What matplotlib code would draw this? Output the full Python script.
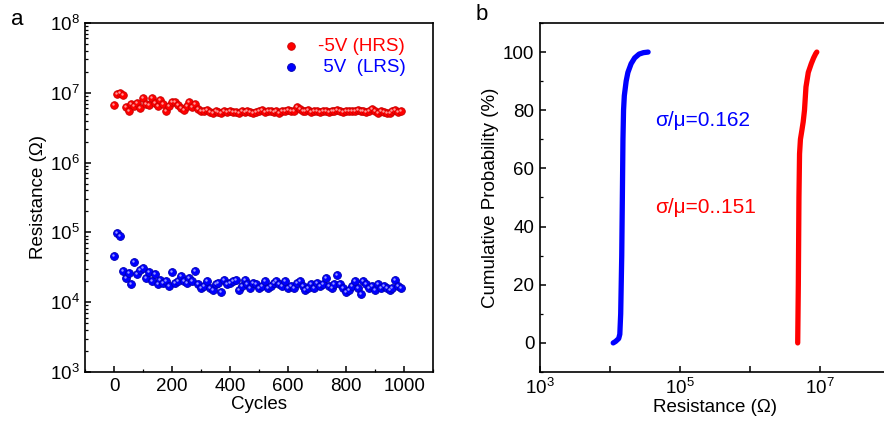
import numpy as np
import matplotlib
matplotlib.use('Agg')
import matplotlib.pyplot as plt
from matplotlib.transforms import offset_copy
from matplotlib.ticker import FixedLocator, FuncFormatter, MultipleLocator, LogLocator, NullFormatter

plt.rcParams['font.family'] = ['Liberation Sans', 'DejaVu Sans']
plt.rcParams['mathtext.default'] = 'regular'

## data
# panel a: endurance, read every 10 cycles
cycles = np.arange(0, 1000, 10)
hrs_mohm = [6.7, 9.6, 9.8, 9.3, 6.3, 5.4, 6.8, 6.4, 7.2, 6.0,
            8.5, 7.0, 6.6, 8.4, 7.2, 6.5, 7.8, 6.8, 5.4, 6.4,
            7.5, 7.3, 6.6, 6.0, 5.6, 6.4, 7.3, 6.2, 7.0, 5.9,
            5.5, 5.4, 5.6, 5.3, 5.2, 5.4, 5.3, 5.2, 5.5, 5.3,
            5.4, 5.3, 5.3, 5.2, 5.4, 5.3, 5.5, 5.3, 5.2, 5.3,
            5.4, 5.6, 5.3, 5.4, 5.5, 5.3, 5.4, 5.2, 5.5, 5.4,
            5.6, 5.4, 5.5, 6.2, 5.8, 5.5, 5.4, 5.6, 5.3, 5.5,
            5.4, 5.3, 5.5, 5.4, 5.3, 5.5, 5.4, 5.6, 5.4, 5.3,
            5.5, 5.4, 5.5, 5.4, 5.6, 5.4, 5.5, 5.3, 5.4, 5.9,
            5.5, 5.2, 5.4, 5.3, 5.1, 5.2, 5.5, 5.7, 5.3, 5.4]
lrs_10k = [4.6, 9.8, 9.0, 2.8, 2.2, 2.6, 1.8, 3.8, 2.5, 2.9,
           3.1, 2.2, 2.7, 2.0, 2.5, 1.8, 2.1, 1.9, 2.0, 1.7,
           2.7, 1.9, 2.0, 2.4, 2.0, 1.9, 2.2, 2.0, 2.8, 1.8,
           1.6, 1.7, 2.0, 1.6, 1.5, 1.8, 1.9, 1.4, 2.1, 1.8,
           1.9, 2.0, 2.1, 1.5, 1.7, 2.1, 1.8, 1.6, 1.9, 1.8,
           1.6, 1.7, 2.0, 1.6, 1.7, 1.9, 2.0, 1.8, 1.7, 2.0,
           1.6, 1.7, 1.6, 1.9, 2.0, 1.7, 1.5, 1.6, 1.8, 1.6,
           1.9, 1.7, 1.8, 2.2, 1.7, 1.6, 1.8, 2.45, 1.8, 1.6,
           1.4, 1.5, 1.7, 2.0, 1.6, 1.3, 2.0, 1.8, 1.6, 1.7,
           1.5, 1.8, 1.6, 1.7, 1.6, 1.5, 1.6, 2.1, 1.7, 1.6]
hrs = np.array(hrs_mohm) * 1e6
lrs = np.array(lrs_10k) * 1e4

# panel b: cumulative distributions
lrs_prob = [0, 0.5, 1.5, 3, 10, 30, 50, 70, 80, 85, 90, 93, 96, 98, 99.3, 99.8, 100]
lrs_res  = [1.11e4, 1.2e4, 1.33e4, 1.38e4, 1.42e4, 1.47e4, 1.50e4, 1.53e4, 1.56e4,
            1.6e4, 1.7e4, 1.8e4, 2.0e4, 2.25e4, 2.6e4, 3.0e4, 3.5e4]
hrs_prob = [0, 20, 50, 65, 70, 73, 76, 80, 88, 93, 96, 98, 99.5, 100]
hrs_res  = [4.8e6, 4.9e6, 5.0e6, 5.1e6, 5.25e6, 5.5e6, 5.75e6, 6.0e6, 6.3e6,
            6.8e6, 7.5e6, 8.1e6, 8.7e6, 9.0e6]

red, blue = '#ff0000', '#0000ff'
fs = 13.5

fig = plt.figure(figsize=(8.84, 4.25), dpi=100)
ax_a = fig.add_axes([0.0962, 0.1247, 0.3937, 0.8212])
ax_b = fig.add_axes([0.6109, 0.1247, 0.3959, 0.8212])

## panel a
ax_a.scatter(cycles, hrs, s=30, color=red, edgecolor='#c80000', lw=0.6,
             label='-5V (HRS)', zorder=3)
ax_a.scatter(cycles, lrs, s=32, color=blue, edgecolor='#0000b0', lw=0.6,
             label=' 5V  (LRS)', zorder=3)
# small highlight to mimic the shaded spheres
hl = offset_copy(ax_a.transData, fig=fig, x=-1.0, y=1.0, units='dots')
ax_a.scatter(cycles, hrs, s=3, color='#ff9a9a', lw=0, transform=hl, zorder=4)
ax_a.scatter(cycles, lrs, s=3, color='#9a9aff', lw=0, transform=hl, zorder=4)

ax_a.set_yscale('log')
ax_a.set_ylim(1e3, 1e8)
ax_a.set_xlim(-100, 1100)
ax_a.xaxis.set_major_locator(MultipleLocator(200))
ax_a.xaxis.set_minor_locator(MultipleLocator(100))
ax_a.yaxis.set_major_locator(LogLocator(base=10, numticks=10))
ax_a.yaxis.set_minor_locator(LogLocator(base=10, subs=np.arange(2, 10), numticks=20))
ax_a.yaxis.set_minor_formatter(NullFormatter())
ax_a.set_xlabel('Cycles', fontsize=fs, labelpad=1)
ax_a.set_ylabel('Resistance (Ω)', fontsize=fs, labelpad=2)
leg = ax_a.legend(loc='upper right', bbox_to_anchor=(0.965, 1.0), frameon=False,
                  fontsize=fs, labelcolor='linecolor', handletextpad=0.7,
                  borderaxespad=0.4, labelspacing=0.2, handlelength=1.5)

## panel b
ax_b.plot(lrs_res, lrs_prob, color=blue, lw=3.8, solid_capstyle='round', solid_joinstyle='round')
ax_b.plot(hrs_res, hrs_prob, color=red, lw=3.8, solid_capstyle='round', solid_joinstyle='round')
ax_b.set_xscale('log')
ax_b.set_xlim(1e3, 1e8)
ax_b.set_ylim(-10, 110)
ax_b.xaxis.set_major_locator(FixedLocator([1e3, 1e4, 1e5, 1e6, 1e7, 1e8]))
ax_b.xaxis.set_minor_locator(FixedLocator([]))
ax_b.xaxis.set_major_formatter(FuncFormatter(
    lambda v, p: '$10^{%d}$' % round(np.log10(v)) if round(np.log10(v)) % 2 == 1 else ''))
ax_b.yaxis.set_major_locator(MultipleLocator(20))
ax_b.yaxis.set_minor_locator(MultipleLocator(10))
ax_b.yaxis.set_major_formatter(FuncFormatter(lambda v, p: '%d' % v if 0 <= v <= 100 else ''))
ax_b.set_xlabel('Resistance (Ω)', fontsize=fs, labelpad=1)
ax_b.set_ylabel('Cumulative Probability (%)', fontsize=fs, labelpad=3)
ax_b.spines['right'].set_visible(False)
ax_b.text(0.33, 0.72, 'σ/μ=0.162', color=blue, fontsize=15, transform=ax_b.transAxes,
          va='center')
ax_b.text(0.33, 0.47, 'σ/μ=0..151', color=red, fontsize=15, transform=ax_b.transAxes,
          va='center')

for ax in (ax_a, ax_b):
    for s in ax.spines.values():
        s.set_linewidth(1.2)
    ax.tick_params(which='both', direction='in', labelsize=fs, top=False, right=False)
    ax.tick_params(which='major', length=4, width=1.1, pad=4)
    ax.tick_params(which='minor', length=2.5, width=0.9)

fig.text(0.012, 0.955, 'a', fontsize=16, va='center')
fig.text(0.538, 0.965, 'b', fontsize=16, va='center')

fig.savefig('out.png', dpi=100)
